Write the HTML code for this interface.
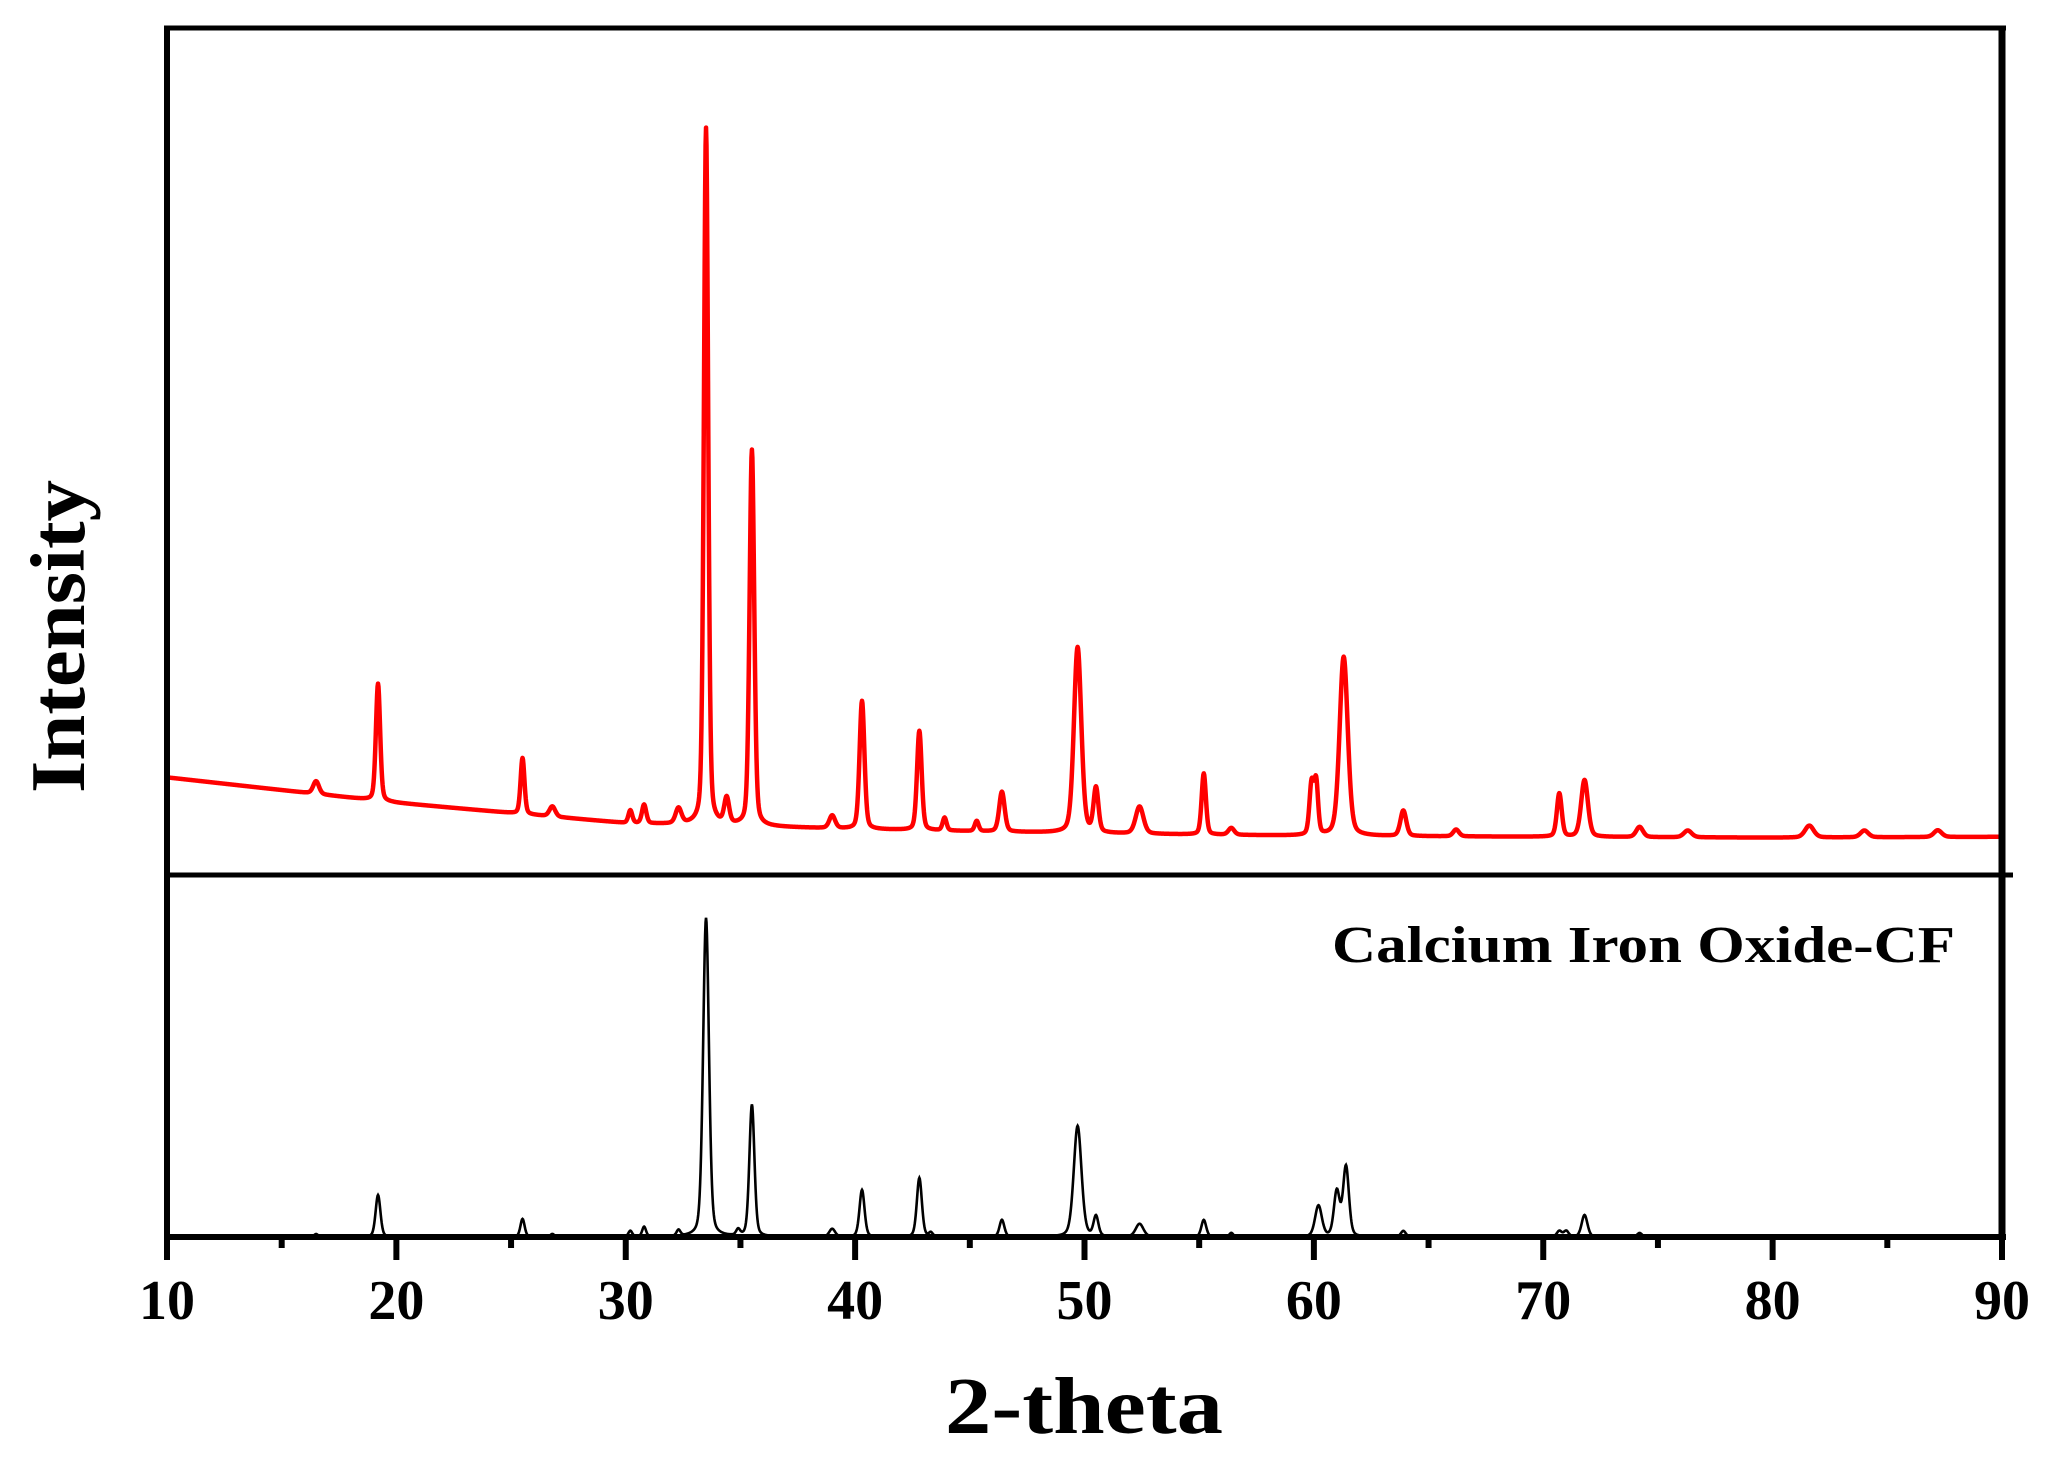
<!DOCTYPE html>
<html><head><meta charset="utf-8">
<style>
html,body{margin:0;padding:0;background:#fff;}
svg{display:block;}
text{font-family:"Liberation Serif",serif;font-weight:bold;fill:#000;}
</style></head>
<body>
<svg id="chart" width="2057" height="1465" viewBox="0 0 2057 1465" xmlns="http://www.w3.org/2000/svg">
  <g id="series"></g>
  <g id="axes">
    <line x1="164" y1="28" x2="2006" y2="28" stroke="#000" stroke-width="5"/>
    <line x1="2002" y1="26" x2="2002" y2="1240" stroke="#000" stroke-width="7"/>
    <line x1="167" y1="26" x2="167" y2="1260" stroke="#000" stroke-width="6"/>
    <line x1="164" y1="875" x2="2013" y2="875" stroke="#000" stroke-width="5"/>
    <line x1="164" y1="1237" x2="2006" y2="1237" stroke="#000" stroke-width="6"/>
  </g>
  <g id="ticks"></g>
  <text x="1332" y="962" font-size="52" textLength="623" lengthAdjust="spacingAndGlyphs">Calcium Iron Oxide-CF</text>
  <text x="945" y="1433" font-size="80" textLength="278" lengthAdjust="spacingAndGlyphs">2-theta</text>
  <text transform="translate(84,793) rotate(-90)" font-size="77" textLength="313" lengthAdjust="spacingAndGlyphs">Intensity</text>
</svg>
<script>
// ---- data ----
const xTicks = [10,20,30,40,50,60,70,80,90];
const bgX = [10,20,30,40,50,60,70,80,90];
const bgY = [115,85,61,54,49,46,45,44,45];
const sampleCenters = [16.5,19.2,25.5,26.8,30.2,30.8,32.3,33.5,34.4,35.5,39.0,40.3,42.8,43.9,45.3,46.4,49.7,50.5,52.4,55.2,56.4,59.9,60.1,61.3,63.9,66.2,70.7,71.8,74.2,76.3,81.6,84.0,87.2];
const sampleHeights = [15,138,66,12,15,22,18,821,30,443,15,151,117,15,12,47,219,52,32,72,8,60,60,211,30,8,51,67,12,8,14,8,8];
const sampleWidths = [0.3,0.22,0.2,0.3,0.2,0.22,0.3,0.22,0.25,0.24,0.3,0.25,0.24,0.2,0.2,0.28,0.38,0.25,0.4,0.22,0.3,0.22,0.2,0.42,0.3,0.3,0.25,0.35,0.35,0.4,0.45,0.4,0.4];
const refCenters = [16.5,19.2,25.5,26.8,30.2,30.8,32.3,33.5,34.9,35.5,39.0,40.3,42.8,43.3,46.4,49.7,50.5,52.4,55.2,56.4,60.2,61.0,61.4,63.9,70.7,71.0,71.8,74.2];
const refHeights = [3,42,18,3,6,10,6,319,6,132,8,47,59,4,17,111,20,13,17,4,31,45,70,6,6,6,22,4];
const refWidths = [0.2,0.25,0.22,0.2,0.2,0.2,0.2,0.3,0.2,0.26,0.3,0.26,0.26,0.2,0.25,0.4,0.25,0.4,0.25,0.2,0.35,0.3,0.3,0.25,0.25,0.25,0.3,0.25];

// ---- scales ----
const X0=167, X1=2002;
function xs(v){return X0+(v-10)*(X1-X0)/80;}
function yUpper(v){return 875 - v*0.849;}
function yLower(v){return 1237 - v;}

function bg(x){
  for(let i=0;i<bgX.length-1;i++){
    if(x<=bgX[i+1]){const t=(x-bgX[i])/(bgX[i+1]-bgX[i]);return bgY[i]+t*(bgY[i+1]-bgY[i]);}
  }
  return bgY[bgY.length-1];
}
function peaks(x,c,h,w){
  let s=0;
  for(let i=0;i<c.length;i++){
    const d=(x-c[i])/w[i];
    const g=Math.exp(-4*Math.LN2*d*d);
    const l=1/(1+4*d*d);
    s+=h[i]*(0.7*g+0.3*l);
  }
  return s;
}
const NS="http://www.w3.org/2000/svg";
function build(fn, yfn){
  let d="";
  for(let x=10;x<=90.0001;x+=0.02){
    d+=(d?"L":"M")+xs(x).toFixed(2)+","+yfn(fn(x)).toFixed(2);
  }
  return d;
}
const layer=document.getElementById('series');
const red=document.createElementNS(NS,'path');


red.setAttribute('d',build(x=>bg(x)+peaks(x,sampleCenters,sampleHeights,sampleWidths),yUpper));
red.setAttribute('fill','none');red.setAttribute('stroke','#ff0000');red.setAttribute('stroke-width','4.5');
red.setAttribute('stroke-linejoin','round');
layer.appendChild(red);
const blk=document.createElementNS(NS,'path');


blk.setAttribute('d',build(x=>peaks(x,refCenters,refHeights,refWidths),yLower));
blk.setAttribute('fill','none');blk.setAttribute('stroke','#000');blk.setAttribute('stroke-width','2.6');
layer.appendChild(blk);

const tg=document.getElementById('ticks');
for(let v=10; v<=90; v+=5){
  const major = v%10===0;
  const l=document.createElementNS(NS,'line');
  
  
  l.setAttribute('x1',xs(v));l.setAttribute('x2',xs(v));
  l.setAttribute('y1',1237);l.setAttribute('y2',major?1260:1248);
  l.setAttribute('stroke','#000');l.setAttribute('stroke-width','6');
  tg.appendChild(l);
}
xTicks.forEach(v=>{
  const t=document.createElementNS(NS,'text');
  
  
  t.setAttribute('x',xs(v));t.setAttribute('y',1319);
  t.setAttribute('font-size','56');t.setAttribute('text-anchor','middle');
  t.textContent=v;
  tg.appendChild(t);
});
</script>
</body></html>
